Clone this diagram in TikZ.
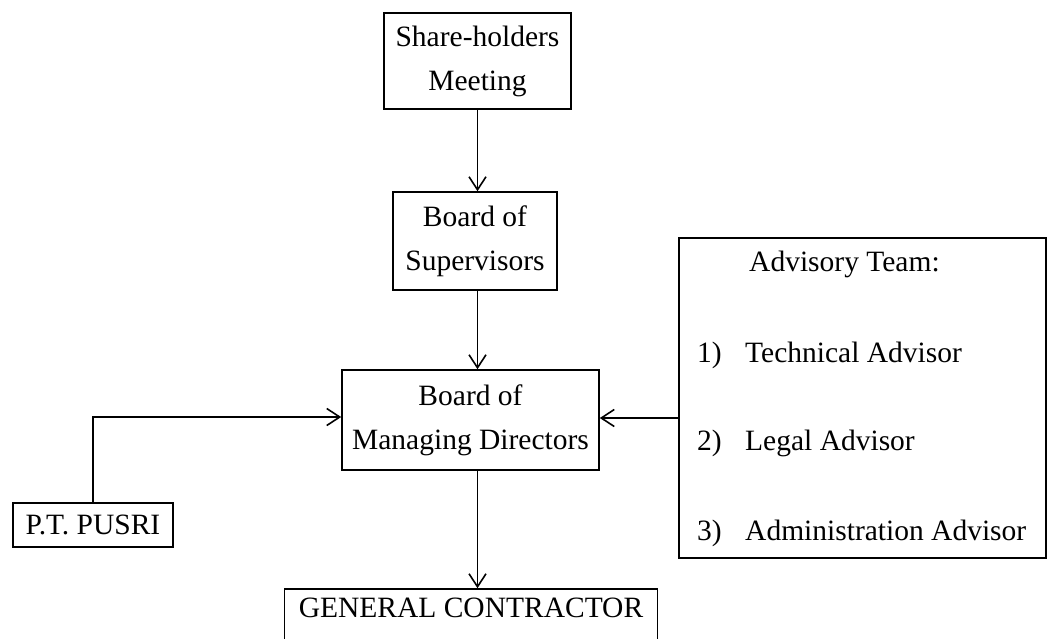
\documentclass[tikz,border=0pt]{standalone}
\usepackage{fontspec}
\setmainfont{Liberation Serif}
\usetikzlibrary{arrows.meta}
\begin{document}
\begin{tikzpicture}[x=1pt,y=-1pt,
  box/.style={draw, line width=1.6pt, inner sep=0pt, align=center,
    font=\fontsize{29.5}{44}\selectfont},
  link/.style={line width=1.6pt,
    -{Straight Barb[length=13pt,width=17pt,line width=1.6pt]}},
  item/.style={font=\fontsize{29.5}{44}\selectfont, inner sep=0pt, anchor=base west}]
\useasboundingbox (0,0) rectangle (1051,638);

% organisation boxes
\node[box, minimum width=187pt, minimum height=96pt] (share) at (477.5,61) {Share-holders\\Meeting};
\node[box, minimum width=164pt, minimum height=98pt] (sup) at (475,241) {Board of\\Supervisors};
\node[box, minimum width=257pt, minimum height=100pt] (mgr) at (470.5,420) {Board of\\Managing Directors};
\node[box, minimum width=160pt, minimum height=44pt] (pusri) at (93,525) {P.T. PUSRI};
\node[box, minimum width=373pt, inner ysep=8pt, text height=20pt, text depth=20pt,
  anchor=base] (gc) at (471,617) {GENERAL CONTRACTOR};

% advisory team panel
\node[box, minimum width=367pt, minimum height=320pt] (adv) at (862.5,398) {};
\node[item] (advhead) at (749,271) {Advisory Team:};
\node[item] (n1) at (697,362) {1)};
\node[item] (a1) at (745,362) {Technical Advisor};
\node[item] (n2) at (697,450) {2)};
\node[item] (a2) at (745,450) {Legal Advisor};
\node[item] (n3) at (697,540) {3)};
\node[item] (a3) at (745,540) {Administration Advisor};

% reporting lines
\draw[link] (share.south) -- (share.south |- sup.north);
\draw[link] (share.south |- sup.south) -- (share.south |- mgr.north);
\draw[link] (share.south |- mgr.south) -- (share.south |- gc.north);
\draw[link] (pusri.north) |- ([yshift=3pt]mgr.west);
\draw[link] ([yshift=2pt]mgr.east -| adv.west) -- ([yshift=2pt]mgr.east);
\end{tikzpicture}
\end{document}
